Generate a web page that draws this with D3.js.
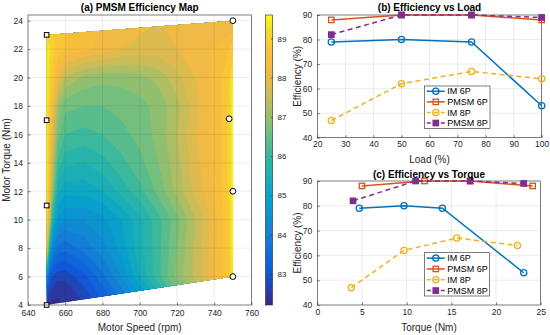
<!DOCTYPE html>
<html>
<head>
<meta charset="utf-8">
<script src="https://cdn.jsdelivr.net/npm/d3@7"></script>
<style>
  body { margin: 0; background: #fff; }
  svg { font-family: "Liberation Sans", Arial, Helvetica, sans-serif; }
</style>
</head>
<body>
<div id="chart"></div>
<script>
// ---------- (a) efficiency map ----------
const mapSpeeds = [650, 651, 653, 656, 660, 670, 680, 690, 700, 710, 720, 730, 738, 744, 748, 750];
const mapTorques = [4, 5, 6, 8, 10, 12, 14, 16, 18, 20, 22, 24];
const mapEff = [
  [82.4, 82.3, 82.2, 82.2, 82.3, 82.6, 83.1, 83.7, 84.4, 85.2, 86.0, 86.8, 87.6, 88.2, 88.5, 88.9],
  [83.2, 82.8, 82.5, 82.4, 82.4, 82.8, 83.4, 84.0, 84.8, 85.6, 86.5, 87.2, 87.9, 88.3, 88.7, 89.2],
  [85.0, 83.4, 82.9, 82.7, 82.7, 83.1, 83.7, 84.4, 85.3, 86.1, 86.9, 87.5, 88.1, 88.5, 88.9, 89.4],
  [88.5, 86.3, 84.2, 83.7, 83.6, 83.9, 84.3, 84.8, 85.5, 86.1, 86.8, 87.5, 88.1, 88.5, 88.9, 89.6],
  [89.3, 88.2, 85.7, 84.6, 84.4, 84.4, 84.6, 85.0, 85.5, 86.1, 86.7, 87.4, 88.0, 88.5, 88.9, 89.6],
  [89.5, 88.7, 87.0, 85.4, 85.1, 85.1, 85.3, 85.7, 86.1, 86.6, 87.2, 87.8, 88.2, 88.6, 89.0, 89.6],
  [89.5, 88.9, 87.6, 86.1, 85.7, 85.6, 85.8, 86.1, 86.4, 86.8, 87.3, 87.9, 88.3, 88.6, 89.0, 89.6],
  [89.5, 89.0, 88.0, 86.6, 86.2, 86.1, 86.2, 86.4, 86.6, 86.9, 87.4, 88.0, 88.3, 88.6, 89.0, 89.6],
  [89.5, 89.1, 88.4, 87.1, 86.6, 86.5, 86.5, 86.6, 86.7, 86.9, 87.3, 87.9, 88.3, 88.6, 89.0, 89.6],
  [89.5, 89.2, 88.8, 88.1, 87.4, 87.0, 86.9, 86.9, 87.0, 87.2, 87.6, 88.0, 88.3, 88.6, 88.9, 89.5],
  [89.5, 89.3, 89.0, 88.8, 88.6, 88.4, 88.2, 88.0, 87.9, 87.9, 88.0, 88.1, 88.3, 88.4, 88.6, 88.8],
  [88.9, 88.9, 88.8, 88.7, 88.6, 88.5, 88.3, 88.2, 88.1, 88.0, 88.0, 88.0, 88.0, 88.0, 88.0, 88.0]
];
// operating points marked on the map
const pmsm6MapSpeed = [650, 650, 650, 650];
const pmsm6MapTorque = [4, 11, 17, 23];
const pmsm8MapSpeed = [750, 750, 748, 750];
const pmsm8MapTorque = [6, 12, 17.1, 24];
const effLimits = [82.2, 89.6];
const cbarTicks = [83, 84, 85, 86, 87, 88, 89];

// ---------- (b) efficiency vs load ----------
const loadPct = [25, 50, 75, 100];
const im6Eff = [79, 80, 79, 53];
const pmsm6Eff = [88, 90, 90, 88];
const im8Eff = [47, 62, 67, 64];
const pmsm8Eff = [82, 90, 90, 89];

// ---------- (c) efficiency vs torque ----------
const im6Torque = [4.7, 9.7, 14.0, 23.1];
const pmsm6Torque = [5.0, 12.0, 17.1, 24.1];
const im8Torque = [3.8, 9.7, 15.6, 22.4];
const pmsm8Torque = [4.0, 11.0, 17.1, 23.1];

const seriesNames = ["IM 6P", "PMSM 6P", "IM 8P", "PMSM 8P"];

const W = 550, H = 335;
const ink = "#262626";
const svg = d3.select("#chart").append("svg")
  .attr("width", W).attr("height", H)
  .style("background", "#fff");

// parula-like colormap
const parulaPos = [0, 0.125, 0.25, 0.375, 0.5, 0.625, 0.72, 0.8, 0.87, 0.94, 1];
const parulaCols = ["#352a87", "#0f5cdd", "#1481d6", "#06a4ca", "#2eb7a4", "#84c174", "#c8bc5a", "#efba45", "#fcc13a", "#f1d930", "#f9fb0e"];
const parula = d3.scaleLinear()
  .domain(parulaPos)
  .range(parulaCols)
  .interpolate(d3.interpolateRgb)
  .clamp(true);
const effColor = v => parula((v - effLimits[0]) / (effLimits[1] - effLimits[0]));

// ================= panel (a) =================
const mapBox = { left: 28, right: 251.5, top: 15, bottom: 305 };
const xMap = d3.scaleLinear().domain([640, 760]).range([mapBox.left, mapBox.right]);
const yMap = d3.scaleLinear().domain([4, 24.4]).range([mapBox.bottom, mapBox.top]);

const gA = svg.append("g");

// convex hull of the measured points bounds the filled region
const hullPts = d3.polygonHull(
  pmsm6MapSpeed.map((s, i) => [xMap(s), yMap(pmsm6MapTorque[i])])
    .concat(pmsm8MapSpeed.map((s, i) => [xMap(s), yMap(pmsm8MapTorque[i])]))
);
svg.append("defs").append("clipPath").attr("id", "hullClip")
  .append("path").attr("d", "M" + hullPts.join("L") + "Z");

// grid index -> data value (grid is not evenly spaced)
function idxVal(arr, c) {
  const f = Math.max(0, Math.min(arr.length - 1, c - 0.5));
  const i = Math.min(Math.floor(f), arr.length - 2);
  return arr[i] + (f - i) * (arr[i + 1] - arr[i]);
}
const gridProj = d3.geoTransform({
  point(x, y) {
    this.stream.point(xMap(idxVal(mapSpeeds, x)), yMap(idxVal(mapTorques, y)));
  }
});
const gridPath = d3.geoPath(gridProj);

const levels = d3.range(82.0, 89.55, 0.3);
const contours = d3.contours()
  .size([mapSpeeds.length, mapTorques.length])
  .thresholds(levels)(mapEff.flat());

const bandColor = (d, i) => i === 0 ? effColor(effLimits[0]) : effColor(d.value + 0.15);
gA.append("g").attr("clip-path", "url(#hullClip)")
  .selectAll("path")
  .data(contours)
  .join("path")
  .attr("d", gridPath)
  .attr("fill", bandColor)
  .attr("stroke", bandColor)
  .attr("stroke-width", 0.3);

// grid lines over the map
const mapXTicks = d3.range(640, 761, 20);
const mapYTicks = d3.range(4, 25, 2);
gA.append("g").selectAll("line").data(mapXTicks.slice(1, -1)).join("line")
  .attr("x1", d => xMap(d)).attr("x2", d => xMap(d))
  .attr("y1", mapBox.top).attr("y2", mapBox.bottom)
  .attr("stroke", ink).attr("stroke-opacity", 0.15).attr("stroke-width", 0.6);
gA.append("g").selectAll("line").data(mapYTicks.filter(t => yMap(t) > mapBox.top + 1 && yMap(t) < mapBox.bottom - 1)).join("line")
  .attr("x1", mapBox.left).attr("x2", mapBox.right)
  .attr("y1", d => yMap(d)).attr("y2", d => yMap(d))
  .attr("stroke", ink).attr("stroke-opacity", 0.15).attr("stroke-width", 0.6);

// markers
gA.append("g").selectAll("rect").data(pmsm6MapSpeed.map((s, i) => [s, pmsm6MapTorque[i]])).join("rect")
  .attr("x", d => xMap(d[0]) - 2.3).attr("y", d => yMap(d[1]) - 2.3)
  .attr("width", 4.6).attr("height", 4.6)
  .attr("fill", "#fff").attr("stroke", "#000").attr("stroke-width", 1);
gA.append("g").selectAll("circle").data(pmsm8MapSpeed.map((s, i) => [s, pmsm8MapTorque[i]])).join("circle")
  .attr("cx", d => xMap(d[0])).attr("cy", d => yMap(d[1])).attr("r", 2.9)
  .attr("fill", "#fff").attr("stroke", "#000").attr("stroke-width", 1);

function styleAxis(g, fontSize) {
  g.selectAll(".domain").remove();
  g.selectAll(".tick line").attr("stroke", ink).attr("stroke-width", 0.6);
  g.selectAll(".tick text").attr("fill", ink).style("font-size", fontSize + "px");
}
function frame(g, box) {
  g.append("rect")
    .attr("x", box.left).attr("y", box.top)
    .attr("width", box.right - box.left).attr("height", box.bottom - box.top)
    .attr("fill", "none").attr("stroke", ink).attr("stroke-width", 0.6);
}

gA.append("g").attr("transform", `translate(0,${mapBox.bottom})`)
  .call(d3.axisBottom(xMap).tickValues(mapXTicks).tickSizeInner(-2.5).tickSizeOuter(0).tickPadding(4.5))
  .call(g => styleAxis(g, 8.5));
gA.append("g").attr("transform", `translate(${mapBox.left},0)`)
  .call(d3.axisLeft(yMap).tickValues(mapYTicks).tickSizeInner(-2.5).tickSizeOuter(0).tickPadding(5))
  .call(g => styleAxis(g, 8.5));
frame(gA, mapBox);

gA.append("text").attr("x", (mapBox.left + mapBox.right) / 2).attr("y", 10.5)
  .attr("text-anchor", "middle").attr("font-weight", "bold").attr("font-size", 10).attr("fill", "#000")
  .text("(a) PMSM Efficiency Map");
gA.append("text").attr("x", (mapBox.left + mapBox.right) / 2).attr("y", 331)
  .attr("text-anchor", "middle").attr("font-size", 10).attr("fill", ink)
  .text("Motor Speed (rpm)");
gA.append("text").attr("transform", `translate(9.5,${(mapBox.top + mapBox.bottom) / 2}) rotate(-90)`)
  .attr("text-anchor", "middle").attr("font-size", 10).attr("fill", ink)
  .text("Motor Torque (Nm)");

// colorbar
const cbar = { left: 265.5, right: 272.5, top: 15, bottom: 305 };
const yCbar = d3.scaleLinear().domain(effLimits).range([cbar.bottom, cbar.top]);
const grad = svg.select("defs").append("linearGradient").attr("id", "cbarGrad")
  .attr("x1", 0).attr("y1", 1).attr("x2", 0).attr("y2", 0);
grad.selectAll("stop").data(d3.range(0, 1.0001, 0.02)).join("stop")
  .attr("offset", d => d).attr("stop-color", d => parula(d));
gA.append("rect").attr("x", cbar.left).attr("y", cbar.top)
  .attr("width", cbar.right - cbar.left).attr("height", cbar.bottom - cbar.top)
  .attr("fill", "url(#cbarGrad)").attr("stroke", ink).attr("stroke-width", 0.6);
gA.append("g").attr("transform", `translate(${cbar.right},0)`)
  .call(d3.axisRight(yCbar).tickValues(cbarTicks).tickSizeInner(-1.5).tickSizeOuter(0).tickPadding(5))
  .call(g => styleAxis(g, 8));

// ================= panels (b) and (c) =================
const seriesStyle = [
  { color: "#0072bd", dash: null, marker: "circle", fill: "none" },
  { color: "#d95319", dash: null, marker: "square", fill: "none" },
  { color: "#edb120", dash: "5,3.5", marker: "circle", fill: "none" },
  { color: "#7e2f8e", dash: "5,3.5", marker: "square", fill: "#7e2f8e" }
];

function drawMarkers(g, pts, st) {
  if (st.marker === "circle") {
    g.append("g").selectAll("circle").data(pts).join("circle")
      .attr("cx", d => d[0]).attr("cy", d => d[1]).attr("r", 3.1)
      .attr("fill", st.fill).attr("stroke", st.color).attr("stroke-width", 1.3);
  } else {
    g.append("g").selectAll("rect").data(pts).join("rect")
      .attr("x", d => d[0] - 2.7).attr("y", d => d[1] - 2.7)
      .attr("width", 5.4).attr("height", 5.4)
      .attr("fill", st.fill).attr("stroke", st.color).attr("stroke-width", 1.3);
  }
}

function linePanel(cfg) {
  const box = cfg.box;
  const x = d3.scaleLinear().domain(cfg.xDomain).range([box.left, box.right]);
  const y = d3.scaleLinear().domain([40, 90]).range([box.bottom, box.top]);
  const g = svg.append("g");

  const xt = d3.range(cfg.xDomain[0], cfg.xDomain[1] + 0.01, cfg.xStep);
  const yt = d3.range(40, 91, 10);
  g.append("g").selectAll("line").data(xt.slice(1, -1)).join("line")
    .attr("x1", d => x(d)).attr("x2", d => x(d)).attr("y1", box.top).attr("y2", box.bottom)
    .attr("stroke", ink).attr("stroke-opacity", 0.15).attr("stroke-width", 0.6);
  g.append("g").selectAll("line").data(yt.slice(1, -1)).join("line")
    .attr("x1", box.left).attr("x2", box.right).attr("y1", d => y(d)).attr("y2", d => y(d))
    .attr("stroke", ink).attr("stroke-opacity", 0.15).attr("stroke-width", 0.6);

  g.append("g").attr("transform", `translate(0,${box.bottom})`)
    .call(d3.axisBottom(x).tickValues(xt).tickSizeInner(-2.5).tickSizeOuter(0).tickPadding(3.5))
    .call(a => styleAxis(a, 8.5));
  g.append("g").attr("transform", `translate(${box.left},0)`)
    .call(d3.axisLeft(y).tickValues(yt).tickSizeInner(-2.5).tickSizeOuter(0).tickPadding(5))
    .call(a => styleAxis(a, 8.5));
  frame(g, box);

  const line = d3.line().x(d => x(d[0])).y(d => y(d[1]));
  cfg.series.forEach((s, k) => {
    const st = seriesStyle[k];
    const pts = s.x.map((v, i) => [v, s.y[i]]);
    g.append("path").datum(pts).attr("d", line)
      .attr("fill", "none").attr("stroke", st.color).attr("stroke-width", 1.5)
      .attr("stroke-dasharray", st.dash);
    drawMarkers(g, pts.map(p => [x(p[0]), y(p[1])]), st);
  });

  g.append("text").attr("x", (box.left + box.right) / 2).attr("y", cfg.titleY)
    .attr("text-anchor", "middle").attr("font-weight", "bold").attr("font-size", 10).attr("fill", "#000")
    .text(cfg.title);
  g.append("text").attr("x", (box.left + box.right) / 2).attr("y", cfg.xLabelY)
    .attr("text-anchor", "middle").attr("font-size", 10).attr("fill", ink)
    .text(cfg.xLabel);
  g.append("text").attr("transform", `translate(300.5,${(box.top + box.bottom) / 2}) rotate(-90)`)
    .attr("text-anchor", "middle").attr("font-size", 10).attr("fill", ink)
    .text("Efficiency (%)");

  // legend
  const lg = cfg.legend;
  const rowH = (lg.bottom - lg.top) / seriesNames.length;
  const leg = g.append("g");
  leg.append("rect").attr("x", lg.left).attr("y", lg.top)
    .attr("width", lg.right - lg.left).attr("height", lg.bottom - lg.top)
    .attr("fill", "#fff").attr("stroke", ink).attr("stroke-width", 0.6);
  seriesNames.forEach((name, k) => {
    const st = seriesStyle[k];
    const cy = lg.top + rowH * (k + 0.5);
    leg.append("line").attr("x1", lg.left + 2.5).attr("x2", lg.left + 20.5)
      .attr("y1", cy).attr("y2", cy)
      .attr("stroke", st.color).attr("stroke-width", 1.5)
      .attr("stroke-dasharray", st.dash ? "4,3" : null);
    drawMarkers(leg, [[lg.left + 11.5, cy]], st);
    leg.append("text").attr("x", lg.left + 23).attr("y", cy + 3.2)
      .attr("font-size", 9).attr("fill", "#000").text(name);
  });
}

linePanel({
  box: { left: 317.3, right: 541.7, top: 15, bottom: 137.7 },
  xDomain: [20, 100], xStep: 10,
  title: "(b) Efficiency vs Load", titleY: 10.5,
  xLabel: "Load (%)", xLabelY: 162.5,
  legend: { left: 424.3, right: 490, top: 86, bottom: 128.3 },
  series: [
    { x: loadPct, y: im6Eff },
    { x: loadPct, y: pmsm6Eff },
    { x: loadPct, y: im8Eff },
    { x: loadPct, y: pmsm8Eff }
  ]
});

linePanel({
  box: { left: 317.3, right: 540.7, top: 181, bottom: 305 },
  xDomain: [0, 25], xStep: 5,
  title: "(c) Efficiency vs Torque", titleY: 177.5,
  xLabel: "Torque (Nm)", xLabelY: 331,
  legend: { left: 424.3, right: 489.3, top: 252.7, bottom: 296 },
  series: [
    { x: im6Torque, y: im6Eff },
    { x: pmsm6Torque, y: pmsm6Eff },
    { x: im8Torque, y: im8Eff },
    { x: pmsm8Torque, y: pmsm8Eff }
  ]
});
</script>
</body>
</html>
